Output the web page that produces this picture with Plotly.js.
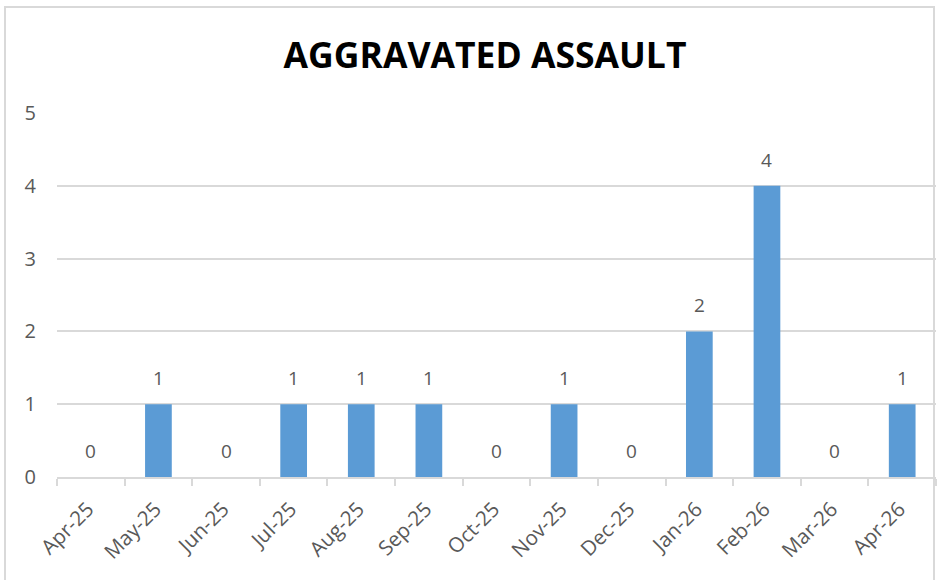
<!DOCTYPE html>
<html>
<head>
<meta charset="utf-8">
<script src="https://cdn.plot.ly/plotly-3.0.1.min.js"></script>
<style>
html,body{margin:0;padding:0;background:#fff;}
#wrap{position:relative;width:940px;height:580px;}
#chart{width:940px;height:580px;}
#frame{position:absolute;left:4px;top:6px;width:931px;height:580px;border:2px solid #d9d9d9;box-sizing:border-box;pointer-events:none;}
</style>
</head>
<body>
<div id="wrap"><div id="chart"></div><div id="frame"></div></div>
<script>
var months = ["Apr-25","May-25","Jun-25","Jul-25","Aug-25","Sep-25","Oct-25","Nov-25","Dec-25","Jan-26","Feb-26","Mar-26","Apr-26"];
var counts = [0,1,0,1,1,1,0,1,0,2,4,0,1];
var yTicks = [0,1,2,3,4,5];

var font = "Open Sans, Liberation Sans, sans-serif";

var trace = {
  type: "bar",
  x: months,
  y: counts,
  marker: {color: "#5b9bd5"},
  hoverinfo: "x+y"
};

var annotations = months.map(function(m, i){
  return {
    x: m, y: counts[i], xref: "x", yref: "y",
    text: String(counts[i]), showarrow: false,
    yanchor: "bottom", yshift: 11,
    font: {family: font, size: 19, color: "#595959"}
  };
});

var layout = {
  width: 940, height: 580,
  margin: {l: 57, r: 4, t: 113, b: 103},
  paper_bgcolor: "#fff", plot_bgcolor: "#fff",
  bargap: 0.605,
  showlegend: false,
  title: {
    text: "<b>AGGRAVATED ASSAULT</b>",
    x: 0.516, xanchor: "center", xref: "container",
    y: 0.905, yanchor: "middle", yref: "container",
    font: {family: font, size: 35.5, color: "#000"}
  },
  xaxis: {
    type: "category",
    tickangle: -45,
    tickfont: {family: font, size: 20.5, color: "#595959"},
    showline: true, linecolor: "#d9d9d9", linewidth: 2,
    ticks: "outside", ticklen: 7, tickcolor: "#d9d9d9", tickwidth: 2,
    tickson: "boundaries",
    ticklabelstandoff: 10, ticklabelshift: -3,
    showgrid: false, zeroline: false,
    fixedrange: true
  },
  yaxis: {
    range: [0, 5],
    tickvals: yTicks,
    ticktext: yTicks.map(String),
    tickfont: {family: font, size: 20, color: "#595959"},
    showgrid: true, gridcolor: "#d9d9d9", gridwidth: 2,
    zeroline: false, showline: false,
    ticks: "", ticklabelstandoff: 20,
    fixedrange: true
  },
  annotations: annotations
};

Plotly.newPlot("chart", [trace], layout, {displayModeBar: false, staticPlot: true});
</script>
</body>
</html>
